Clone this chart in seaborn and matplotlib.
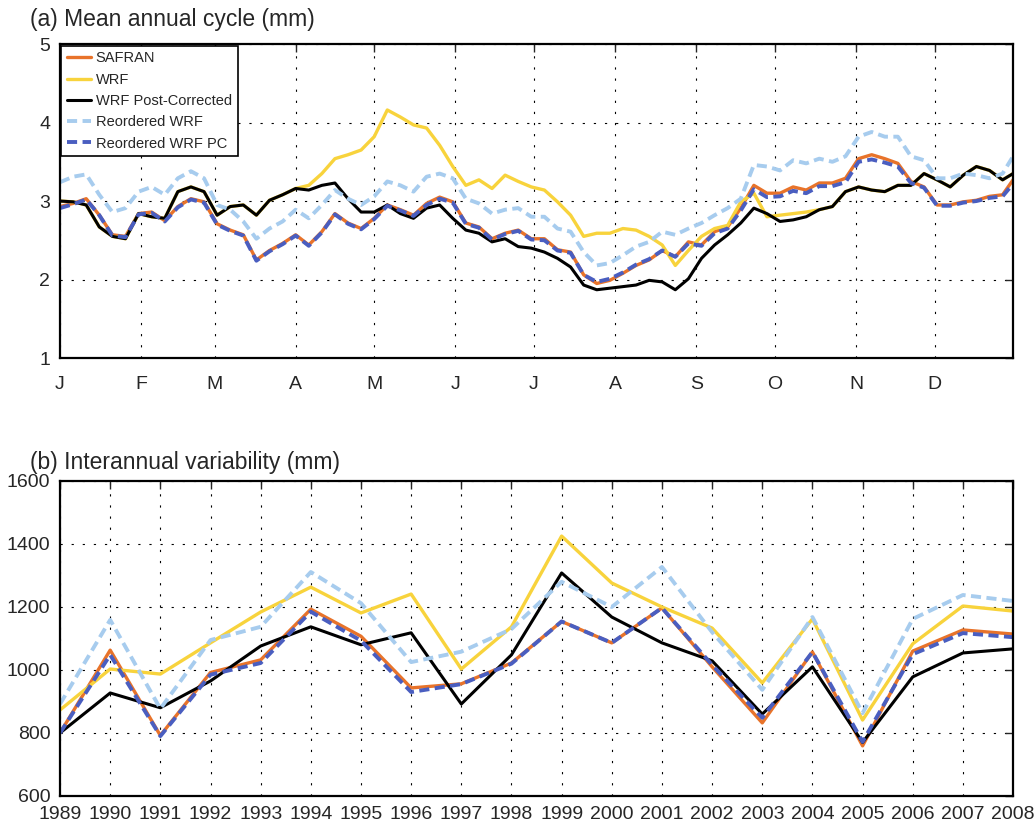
import numpy as np
import pandas as pd
import seaborn as sns
import matplotlib
matplotlib.use('Agg')
import matplotlib.pyplot as plt

#------------------------- data -------------------------#
# (a) mean annual cycle, one value every 5 days (day of year)
days = list(range(0, 361, 5)) + [364]

safran_daily = [2.93, 2.97, 3.03, 2.82, 2.57, 2.55, 2.84, 2.86, 2.75, 2.93, 3.03, 2.99, 2.71, 2.63, 2.57,
                2.25, 2.37, 2.46, 2.57, 2.44, 2.61, 2.84, 2.72, 2.65, 2.78, 2.95, 2.89, 2.82, 2.97, 3.05,
                2.99, 2.72, 2.67, 2.52, 2.59, 2.63, 2.52, 2.52, 2.38, 2.35, 2.06, 1.95, 1.99, 2.08,
                2.18, 2.25, 2.37, 2.29, 2.48, 2.44, 2.61, 2.67, 2.91, 3.20, 3.10, 3.10, 3.18, 3.14, 3.23,
                3.23, 3.29, 3.54, 3.59, 3.54, 3.48, 3.25, 3.18, 2.95, 2.95, 2.99, 3.01, 3.06, 3.08, 3.27]

wrf_daily = [3.00, 2.99, 2.95, 2.67, 2.55, 2.52, 2.84, 2.80, 2.78, 3.12, 3.18, 3.12, 2.82, 2.93, 2.95,
             2.82, 3.01, 3.08, 3.16, 3.20, 3.35, 3.54, 3.59, 3.65, 3.82, 4.16, 4.07, 3.97, 3.93, 3.71,
             3.44, 3.20, 3.27, 3.16, 3.33, 3.25, 3.18, 3.14, 2.99, 2.82, 2.55, 2.59, 2.59, 2.65,
             2.63, 2.55, 2.44, 2.18, 2.37, 2.55, 2.65, 2.69, 2.99, 3.10, 2.80, 2.82, 2.84, 2.86, 2.89,
             2.93, 3.12, 3.18, 3.14, 3.12, 3.20, 3.20, 3.35, 3.27, 3.18, 3.33, 3.44, 3.39, 3.27, 3.35]

wrfpc_daily = [3.00, 2.99, 2.95, 2.67, 2.55, 2.52, 2.84, 2.80, 2.78, 3.12, 3.18, 3.12, 2.82, 2.93, 2.95,
               2.82, 3.01, 3.08, 3.16, 3.14, 3.20, 3.23, 3.03, 2.86, 2.86, 2.95, 2.84, 2.78, 2.91, 2.95,
               2.78, 2.63, 2.59, 2.48, 2.52, 2.42, 2.40, 2.35, 2.27, 2.16, 1.93, 1.87, 1.89, 1.91,
               1.93, 1.99, 1.97, 1.87, 2.01, 2.27, 2.44, 2.57, 2.72, 2.91, 2.84, 2.74, 2.76, 2.80, 2.89,
               2.93, 3.12, 3.18, 3.14, 3.12, 3.20, 3.20, 3.35, 3.27, 3.18, 3.33, 3.44, 3.39, 3.27, 3.35]

reord_daily = [3.24, 3.31, 3.34, 3.08, 2.86, 2.91, 3.12, 3.18, 3.08, 3.29, 3.38, 3.29, 2.95, 2.89, 2.74,
               2.52, 2.65, 2.74, 2.89, 2.78, 2.95, 3.14, 3.03, 2.95, 3.06, 3.25, 3.20, 3.12, 3.31, 3.35,
               3.29, 3.03, 2.97, 2.84, 2.89, 2.91, 2.80, 2.80, 2.65, 2.61, 2.35, 2.18, 2.21, 2.31,
               2.42, 2.48, 2.61, 2.57, 2.65, 2.72, 2.82, 2.91, 3.03, 3.46, 3.44, 3.39, 3.52, 3.48, 3.54,
               3.50, 3.57, 3.82, 3.88, 3.82, 3.82, 3.57, 3.52, 3.29, 3.29, 3.35, 3.33, 3.29, 3.35, 3.57]

reordpc_daily = [2.91, 2.96, 3.02, 2.82, 2.56, 2.54, 2.83, 2.85, 2.74, 2.92, 3.02, 2.98, 2.70, 2.62, 2.56,
                 2.24, 2.36, 2.45, 2.56, 2.43, 2.60, 2.83, 2.71, 2.64, 2.77, 2.94, 2.88, 2.81, 2.95, 3.03,
                 2.98, 2.71, 2.66, 2.51, 2.58, 2.62, 2.51, 2.50, 2.37, 2.34, 2.06, 1.97, 2.01, 2.09,
                 2.19, 2.26, 2.37, 2.29, 2.46, 2.43, 2.59, 2.65, 2.88, 3.15, 3.05, 3.06, 3.13, 3.10, 3.19,
                 3.19, 3.24, 3.50, 3.53, 3.49, 3.44, 3.23, 3.17, 2.94, 2.94, 2.98, 3.00, 3.04, 3.06, 3.22]

month_starts = [0, 31, 59, 90, 120, 151, 181, 212, 243, 273, 304, 334]
month_labels = ['J', 'F', 'M', 'A', 'M', 'J', 'J', 'A', 'S', 'O', 'N', 'D']

# (b) interannual variability (annual totals, mm)
years = list(range(1989, 2009))
safran_year = [800, 1063, 792, 992, 1032, 1193, 1107, 943, 956, 1022, 1154, 1086, 1197, 1010, 832, 1057, 759, 1060, 1127, 1114]
wrf_year = [873, 1003, 987, 1086, 1184, 1263, 1181, 1241, 1003, 1137, 1425, 1276, 1200, 1133, 959, 1162, 841, 1083, 1203, 1187]
wrfpc_year = [800, 927, 880, 965, 1076, 1137, 1080, 1118, 892, 1048, 1308, 1168, 1086, 1029, 860, 1010, 770, 978, 1054, 1067]
reord_year = [892, 1159, 877, 1095, 1137, 1311, 1212, 1025, 1058, 1130, 1280, 1200, 1327, 1120, 937, 1168, 863, 1162, 1238, 1219]
reordpc_year = [800, 1048, 790, 985, 1022, 1185, 1093, 930, 955, 1020, 1154, 1086, 1197, 1016, 848, 1057, 772, 1050, 1117, 1104]

#------------------------------- styling -----------------------------------#
sns.set_style("white")
plt.rcParams['font.family'] = ['Liberation Sans', 'DejaVu Sans']

c_safran = '#E8732A'
c_wrf = '#F8D33C'
c_pc = 'black'
c_reord = '#A7CCEE'
c_reordpc = '#4A5EC0'
dash = (0, (2.6, 1.4))

fig = plt.figure(figsize=(10.35, 8.25), dpi=100)
ax1 = fig.add_axes([0.058, 0.566, 0.9208, 0.3806])
ax2 = fig.add_axes([0.058, 0.0352, 0.9208, 0.3818])

# top panel
sns.lineplot(x=days, y=safran_daily, ax=ax1, color=c_safran, lw=2.4, label='SAFRAN')
sns.lineplot(x=days, y=wrf_daily, ax=ax1, color=c_wrf, lw=2.4, label='WRF')
sns.lineplot(x=days, y=wrfpc_daily, ax=ax1, color=c_pc, lw=2.2, label='WRF Post-Corrected')
sns.lineplot(x=days, y=reord_daily, ax=ax1, color=c_reord, lw=2.8, linestyle=dash, label='Reordered WRF')
sns.lineplot(x=days, y=reordpc_daily, ax=ax1, color=c_reordpc, lw=2.8, linestyle=dash, label='Reordered WRF PC')

ax1.set_xlim(0, 364)
ax1.set_ylim(1, 5)
ax1.set_xticks(month_starts)
ax1.set_xticklabels(month_labels)
ax1.set_yticks([1, 2, 3, 4, 5])

leg = ax1.legend(loc='upper left', bbox_to_anchor=(0, 1), borderaxespad=0.1, fontsize=10.5,
                 fancybox=False, framealpha=1, edgecolor='black', handlelength=1.6,
                 handletextpad=0.35, labelspacing=0.5, borderpad=0.4)
leg.get_frame().set_linewidth(1.2)

# bottom panel
sns.lineplot(x=years, y=safran_year, ax=ax2, color=c_safran, lw=2.4, legend=False)
sns.lineplot(x=years, y=wrf_year, ax=ax2, color=c_wrf, lw=2.4, legend=False)
sns.lineplot(x=years, y=wrfpc_year, ax=ax2, color=c_pc, lw=2.2, legend=False)
sns.lineplot(x=years, y=reord_year, ax=ax2, color=c_reord, lw=2.8, linestyle=dash, legend=False)
sns.lineplot(x=years, y=reordpc_year, ax=ax2, color=c_reordpc, lw=2.8, linestyle=dash, legend=False)

ax2.set_xlim(1989, 2008)
ax2.set_ylim(600, 1600)
ax2.set_xticks(years)
ax2.set_yticks(range(600, 1601, 200))

for ax in (ax1, ax2):
    ax.set_xlabel('')
    ax.set_ylabel('')
    ax.grid(True, color='black', linestyle=(0, (2, 8)), linewidth=0.8)
    ax.tick_params(direction='in', length=6, width=1, top=True, right=True,
                   labelsize=14, pad=7)
    for s in ax.spines.values():
        s.set_linewidth(1.6)
        s.set_color('black')
ax1.tick_params(axis='x', pad=13)

fig.text(0.029, 0.976, '(a) Mean annual cycle (mm)', fontsize=16.5, va='center', ha='left')
fig.text(0.029, 0.44, '(b) Interannual variability (mm)', fontsize=16.5, va='center', ha='left')

fig.savefig('out.png', dpi=100)
